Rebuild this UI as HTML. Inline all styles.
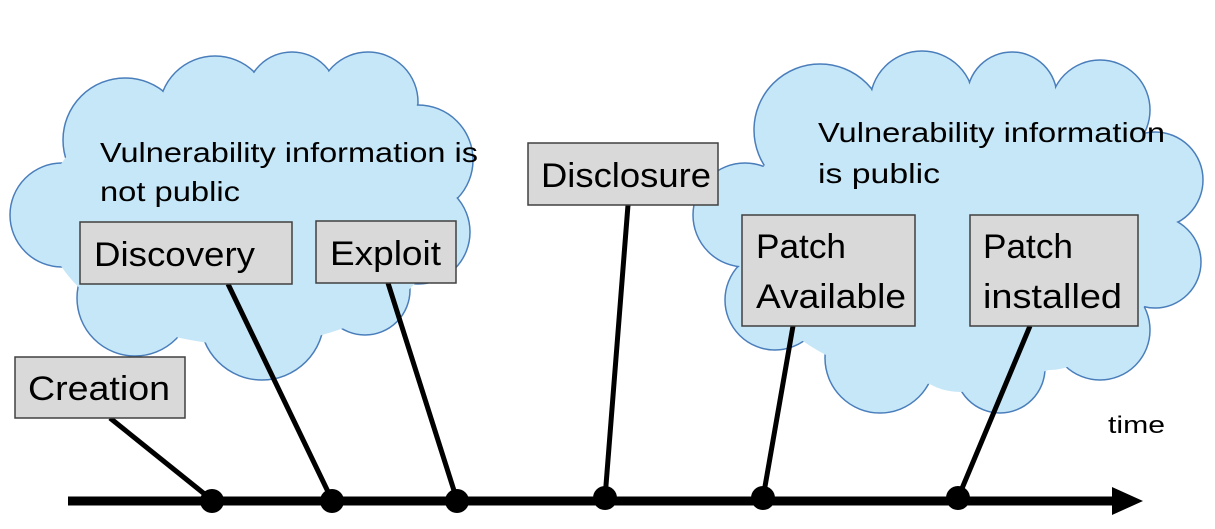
<!DOCTYPE html>
<html><head><meta charset="utf-8"><style>
html,body{margin:0;padding:0;background:#fff;}
svg{display:block;}
text{font-family:"Liberation Sans",sans-serif;fill:#000;}
</style></head><body>
<svg width="1215" height="529" viewBox="0 0 1215 529" xmlns="http://www.w3.org/2000/svg">
<g stroke="#4a7ebb" stroke-width="1.5" fill="#c6e7f8">
<circle cx="125" cy="140" r="62"/><circle cx="215" cy="112" r="56"/><circle cx="292" cy="98" r="46"/><circle cx="368" cy="102" r="50"/><circle cx="418" cy="160" r="55"/><circle cx="418" cy="232" r="52"/><circle cx="365" cy="290" r="45"/><circle cx="262" cy="318" r="62"/><circle cx="135" cy="298" r="58"/><circle cx="62" cy="215" r="52"/>
<circle cx="820" cy="130" r="66"/><circle cx="922" cy="103" r="52"/><circle cx="1012" cy="97" r="45"/><circle cx="1100" cy="110" r="50"/><circle cx="1155" cy="180" r="48"/><circle cx="1155" cy="262" r="46"/><circle cx="1100" cy="330" r="50"/><circle cx="1000" cy="368" r="45"/><circle cx="880" cy="358" r="55"/><circle cx="775" cy="300" r="50"/><circle cx="745" cy="215" r="52"/>
</g>
<g fill="#c6e7f8">
<circle cx="125" cy="140" r="61"/><circle cx="215" cy="112" r="55"/><circle cx="292" cy="98" r="45"/><circle cx="368" cy="102" r="49"/><circle cx="418" cy="160" r="54"/><circle cx="418" cy="232" r="51"/><circle cx="365" cy="290" r="44"/><circle cx="262" cy="318" r="61"/><circle cx="135" cy="298" r="57"/><circle cx="62" cy="215" r="51"/>
<ellipse cx="245" cy="215" rx="200" ry="130"/>
<circle cx="820" cy="130" r="65"/><circle cx="922" cy="103" r="51"/><circle cx="1012" cy="97" r="44"/><circle cx="1100" cy="110" r="49"/><circle cx="1155" cy="180" r="47"/><circle cx="1155" cy="262" r="45"/><circle cx="1100" cy="330" r="49"/><circle cx="1000" cy="368" r="44"/><circle cx="880" cy="358" r="54"/><circle cx="775" cy="300" r="49"/><circle cx="745" cy="215" r="51"/>
<ellipse cx="955" cy="235" rx="215" ry="150"/>
<circle cx="960" cy="330" r="62"/><circle cx="1050" cy="320" r="50"/>
</g>
<text x="100" y="162" font-size="28" textLength="378" lengthAdjust="spacingAndGlyphs">Vulnerability information is</text>
<text x="100" y="201" font-size="28" textLength="140" lengthAdjust="spacingAndGlyphs">not public</text>
<text x="818" y="142" font-size="28" textLength="347" lengthAdjust="spacingAndGlyphs">Vulnerability information</text>
<text x="818" y="183" font-size="28" textLength="122" lengthAdjust="spacingAndGlyphs">is  public</text>
<g stroke="#000" stroke-width="5" stroke-linecap="butt">
<line x1="110" y1="418" x2="212" y2="500"/>
<line x1="228" y1="284" x2="332" y2="500"/>
<line x1="388" y1="283" x2="457" y2="500"/>
<line x1="628" y1="205" x2="605" y2="498"/>
<line x1="793" y1="326" x2="763" y2="498"/>
<line x1="1030" y1="326" x2="958" y2="498"/>
<line x1="68" y1="501" x2="1118" y2="501" stroke-width="9"/>
</g>
<polygon points="1112,487 1143,501 1112,515" fill="#000"/>
<g fill="#000"><circle cx="212" cy="501" r="12"/><circle cx="332" cy="501" r="12"/><circle cx="457" cy="501" r="12"/><circle cx="605" cy="498" r="12"/><circle cx="763" cy="498" r="12"/><circle cx="958" cy="498" r="12"/></g>
<g fill="#d9d9d9" stroke="#404040" stroke-width="1.5">
<rect x="15" y="357" width="170" height="61"/>
<rect x="80" y="222" width="212" height="62"/>
<rect x="316" y="221" width="140" height="62"/>
<rect x="528" y="143" width="190" height="62"/>
<rect x="742" y="215" width="173" height="111"/>
<rect x="970" y="215" width="168" height="111"/>
</g>
<g font-size="34">
<text x="28" y="400" textLength="142" lengthAdjust="spacingAndGlyphs">Creation</text>
<text x="94" y="266" textLength="161" lengthAdjust="spacingAndGlyphs">Discovery</text>
<text x="330" y="265" textLength="111" lengthAdjust="spacingAndGlyphs">Exploit</text>
<text x="541" y="187" textLength="170" lengthAdjust="spacingAndGlyphs">Disclosure</text>
<text x="756" y="258" textLength="90" lengthAdjust="spacingAndGlyphs">Patch</text>
<text x="756" y="308" textLength="150" lengthAdjust="spacingAndGlyphs">Available</text>
<text x="983" y="258" textLength="90" lengthAdjust="spacingAndGlyphs">Patch</text>
<text x="983" y="308" textLength="139" lengthAdjust="spacingAndGlyphs">installed</text>
</g>
<text x="1108" y="433" font-size="24" textLength="57" lengthAdjust="spacingAndGlyphs">time</text>
</svg>
</body></html>
